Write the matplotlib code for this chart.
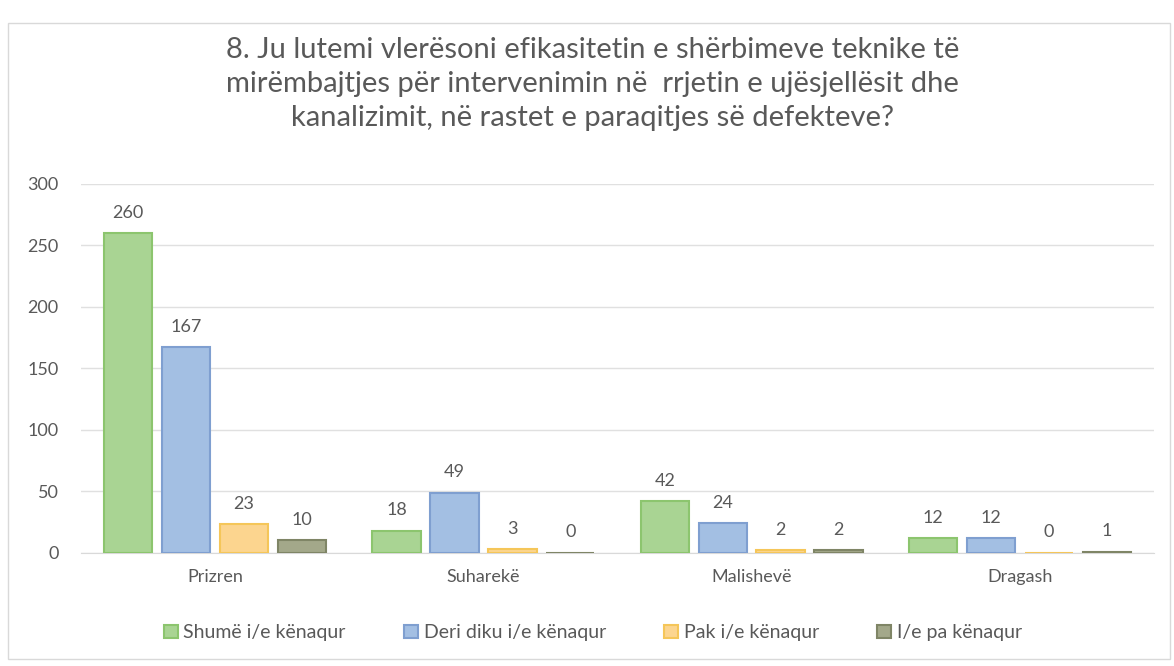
import matplotlib
matplotlib.use("Agg")
import matplotlib.pyplot as plt
import numpy as np
from matplotlib.patches import Rectangle

plt.rcParams['font.family'] = ['Lato', 'DejaVu Sans']

categories = ["Prizren", "Suharekë", "Malishevë", "Dragash"]
series_names = ["Shumë i/e kënaqur", "Deri diku i/e kënaqur", "Pak i/e kënaqur", "I/e pa kënaqur"]
shume = [260, 18, 42, 12]
deri = [167, 49, 24, 12]
pak = [23, 3, 2, 0]
pa = [10, 0, 2, 1]
series = [shume, deri, pak, pa]
colors = ["#a9d493", "#a3bfe3", "#fcd58f", "#a3a88a"]
edges = ["#8cc56e", "#7f9fd0", "#f5c659", "#7f8566"]

fig = plt.figure(figsize=(11.74, 6.66), dpi=100)
ax = fig.add_axes([0.069, 0.170, 0.914, 0.554])

x = np.arange(len(categories))
step = 0.216
w = 0.18
for i, (vals, c, e, name) in enumerate(zip(series, colors, edges, series_names)):
    pos = x + (i - 1.5) * step
    ax.bar(pos, vals, width=w, color=c, edgecolor=e, linewidth=1.5, label=name, zorder=3)
    for p, v in zip(pos, vals):
        ax.text(p, v + 10, str(v), ha='center', va='bottom', fontsize=13, color='#595959')

ax.set_xlim(-0.5, 3.5)
ax.set_ylim(0, 300)
ax.set_yticks(range(0, 301, 50))
ax.set_xticks(x)
ax.set_xticklabels(categories)
ax.tick_params(axis='both', length=0, labelsize=13, labelcolor='#595959')
ax.tick_params(axis='x', pad=12)
ax.tick_params(axis='y', pad=16)
ax.yaxis.grid(True, color='#e0e0e0', linewidth=1, zorder=0)
for s in ['top', 'right', 'left']:
    ax.spines[s].set_visible(False)
ax.spines['bottom'].set_color('#d9d9d9')

fig.text(0.505, 0.874, "8. Ju lutemi vlerësoni efikasitetin e shërbimeve teknike të\nmirëmbajtjes për intervenimin në  rrjetin e ujësjellësit dhe\nkanalizimit, në rastet e paraqitjes së defekteve?",
         ha='center', va='center', fontsize=21, color='#595959', linespacing=1.4)

leg = fig.legend(loc='center', bbox_to_anchor=(0.505, 0.05), ncol=4, frameon=False,
                 fontsize=14, handlelength=0.7, handleheight=0.7, handletextpad=0.3, columnspacing=3.0)
for t in leg.get_texts():
    t.set_color('#595959')

fig.patches.append(Rectangle((0.007, 0.01), 0.99, 0.955, transform=fig.transFigure,
                             fill=False, edgecolor='#d9d9d9', linewidth=1))

fig.savefig("out.png", dpi=100, facecolor='white')
